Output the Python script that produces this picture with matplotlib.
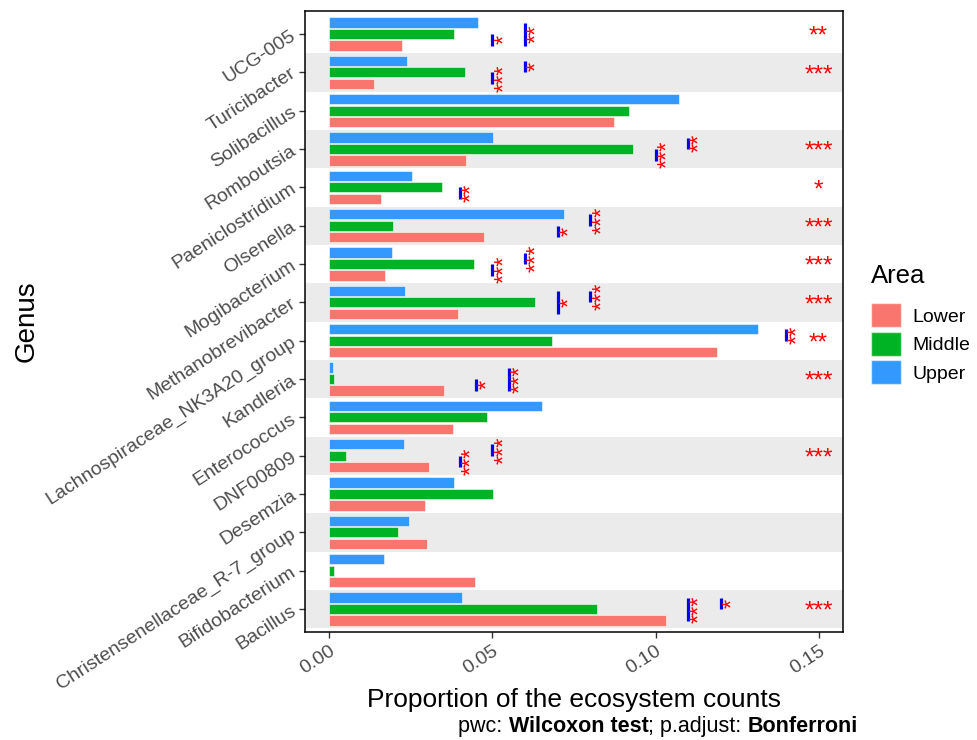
import matplotlib
matplotlib.use("Agg")
import matplotlib.pyplot as plt
import matplotlib.transforms as mtransforms
from matplotlib.offsetbox import TextArea, HPacker, AnchoredOffsetbox
from matplotlib.patches import Patch

plt.rcParams['font.family'] = ['Liberation Sans', 'DejaVu Sans']

# Genera, listed bottom to top
genera = ["Bacillus", "Bifidobacterium", "Christensenellaceae_R-7_group", "Desemzia",
          "DNF00809", "Enterococcus", "Kandleria", "Lachnospiraceae_NK3A20_group",
          "Methanobrevibacter", "Mogibacterium", "Olsenella", "Paeniclostridium",
          "Romboutsia", "Solibacillus", "Turicibacter", "UCG-005"]

areas = ["Lower", "Middle", "Upper"]
area_colors = ["#F8766D", "#00B324", "#3399FF"]

lower = [0.1033, 0.0445, 0.0300, 0.0294, 0.0304, 0.0379, 0.0350, 0.1189,
         0.0393, 0.0170, 0.0475, 0.0159, 0.0418, 0.0874, 0.0136, 0.0222]
middle = [0.0820, 0.0014, 0.0209, 0.0503, 0.0052, 0.0482, 0.0014, 0.0682,
          0.0630, 0.0442, 0.0196, 0.0344, 0.0932, 0.0919, 0.0415, 0.0383]
upper = [0.0408, 0.0166, 0.0243, 0.0383, 0.0228, 0.0652, 0.0011, 0.1313,
         0.0232, 0.0191, 0.0718, 0.0253, 0.0502, 0.1073, 0.0237, 0.0457]

# Pairwise comparisons (Wilcoxon, Bonferroni-adjusted)
pair_genus = ["UCG-005", "UCG-005", "Turicibacter", "Turicibacter", "Romboutsia", "Romboutsia",
              "Paeniclostridium", "Olsenella", "Olsenella", "Mogibacterium", "Mogibacterium",
              "Methanobrevibacter", "Methanobrevibacter", "Lachnospiraceae_NK3A20_group",
              "Kandleria", "Kandleria", "DNF00809", "DNF00809", "Bacillus", "Bacillus"]
pair_group1 = ["Lower", "Lower", "Middle", "Lower", "Middle", "Lower",
               "Lower", "Middle", "Lower", "Middle", "Lower",
               "Lower", "Middle", "Middle",
               "Lower", "Lower", "Middle", "Lower", "Lower", "Middle"]
pair_group2 = ["Middle", "Upper", "Upper", "Middle", "Upper", "Middle",
               "Middle", "Upper", "Middle", "Upper", "Middle",
               "Upper", "Upper", "Upper",
               "Middle", "Upper", "Upper", "Middle", "Upper", "Upper"]
pair_ypos = [0.05, 0.06, 0.06, 0.05, 0.11, 0.10,
             0.04, 0.08, 0.07, 0.06, 0.05,
             0.07, 0.08, 0.14,
             0.045, 0.055, 0.05, 0.04, 0.11, 0.12]
pair_signif = ["*", "**", "*", "***", "**", "***",
               "**", "***", "*", "***", "***",
               "*", "***", "**",
               "*", "***", "***", "***", "***", "*"]

# Overall test per genus
overall_genus = ["UCG-005", "Turicibacter", "Romboutsia", "Paeniclostridium", "Olsenella",
                 "Mogibacterium", "Methanobrevibacter", "Lachnospiraceae_NK3A20_group",
                 "Kandleria", "DNF00809", "Bacillus"]
overall_signif = ["**", "***", "***", "*", "***", "***", "***", "**", "***", "***", "***"]
overall_ypos = 0.15

xticks = [0.00, 0.05, 0.10, 0.15]
xtick_labels = ["0.00", "0.05", "0.10", "0.15"]

fig = plt.figure(figsize=(9.78, 7.40), dpi=100)
ax = fig.add_axes([305 / 978, 1 - 632 / 740, (843 - 305) / 978, (632 - 11) / 740])

pos = {g: i + 1 for i, g in enumerate(genera)}
dodge = 0.3
bar_h = 0.8 / 3
offsets = {"Lower": -dodge, "Middle": 0.0, "Upper": dodge}

# alternating background stripes
for g, p in pos.items():
    if p % 2 == 1:
        ax.axhspan(p - 0.5, p + 0.5, color="#EBEBEB", lw=0, zorder=0)

series = {"Lower": lower, "Middle": middle, "Upper": upper}
for a, c in zip(areas, area_colors):
    ys = [pos[g] + offsets[a] for g in genera]
    ax.barh(ys, series[a], height=bar_h, color=c, edgecolor=(1, 1, 1, 0.55),
            linewidth=0.7, zorder=2)

# brackets with significance labels
lbl_off = mtransforms.offset_copy(ax.transData, fig=fig, x=1.0, y=0, units="points")
for g, g1, g2, yp, s in zip(pair_genus, pair_group1, pair_group2, pair_ypos, pair_signif):
    y1 = pos[g] + offsets[g1]
    y2 = pos[g] + offsets[g2]
    ax.plot([yp, yp], [y1, y2], color="#0000EE", lw=2.3, solid_capstyle="butt", zorder=3)
    ax.text(yp, (y1 + y2) / 2, s, transform=lbl_off, rotation=90, ha="left", va="center",
            color="red", fontsize=17, zorder=4)

overall_off = mtransforms.offset_copy(ax.transData, fig=fig, x=0, y=-2, units="points")
for g, s in zip(overall_genus, overall_signif):
    ax.text(overall_ypos, pos[g], s, transform=overall_off, ha="center", va="center",
            color="red", fontsize=17.5, zorder=4)

ax.set_xlim(-0.0075, 0.1575)
ax.set_ylim(0.4, 16.6)
ax.set_yticks(range(1, len(genera) + 1))
ax.set_yticklabels(genera, rotation=33, ha="right", va="center", rotation_mode="anchor",
                   color="#4D4D4D", fontsize=14)
ax.set_xticks(xticks)
ax.set_xticklabels(xtick_labels, rotation=33, ha="right", va="top", rotation_mode="anchor",
                   color="#4D4D4D", fontsize=14)
ax.tick_params(axis="both", length=4, width=1, color="#333333")
for sp in ax.spines.values():
    sp.set_color("black")
    sp.set_linewidth(1.1)

ax.set_xlabel("Proportion of the ecosystem counts", fontsize=19, labelpad=8)
ax.set_ylabel("Genus", fontsize=20)
ax.yaxis.set_label_coords((40 - 305) / 538, 0.5)

handles = [Patch(facecolor=c, edgecolor=(1, 1, 1, 0.55), label=a) for a, c in zip(areas, area_colors)]
leg = fig.legend(handles=handles, title="Area", loc="upper left",
                 bbox_to_anchor=(871 / 978, 1 - 264 / 740),
                 frameon=False, fontsize=14, title_fontsize=18.5, handlelength=1.55,
                 handleheight=1.5, labelspacing=0.25, handletextpad=0.6,
                 borderpad=0, borderaxespad=0)
leg._legend_box.align = "left"
leg._legend_box.sep = 11

parts = [("pwc: ", "normal"), ("Wilcoxon test", "bold"), ("; p.adjust: ", "normal"), ("Bonferroni", "bold")]
boxes = [TextArea(t, textprops=dict(fontsize=15.5, fontweight=w, color="black")) for t, w in parts]
pack = HPacker(children=boxes, align="baseline", pad=0, sep=0)
anch = AnchoredOffsetbox(loc="lower right", child=pack, pad=0, frameon=False,
                         bbox_to_anchor=(858 / 978, 1 - 737 / 740), bbox_transform=fig.transFigure,
                         borderpad=0)
fig.add_artist(anch)

fig.savefig("out.png", dpi=100)
